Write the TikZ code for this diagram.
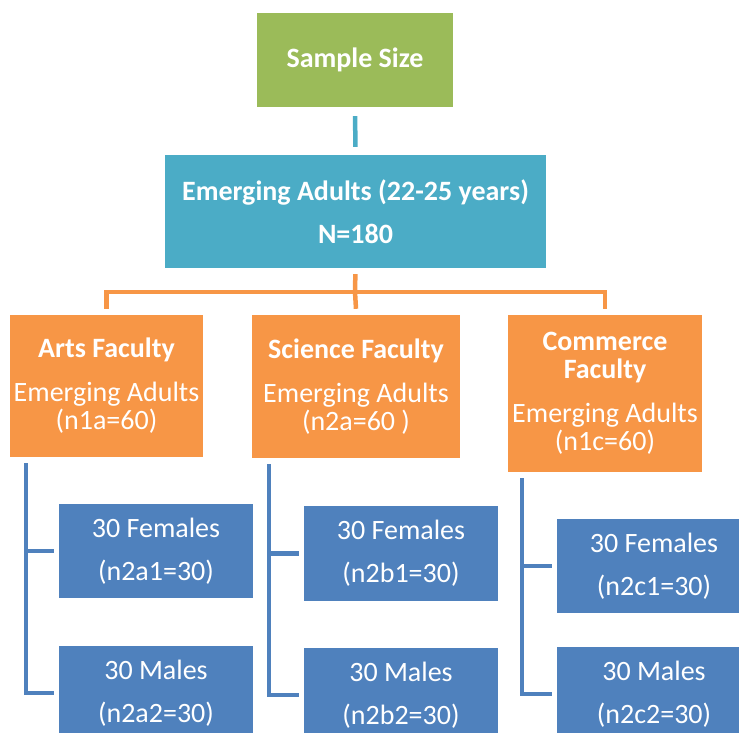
\documentclass[tikz,border=0pt]{standalone}
\usepackage{fontspec}
\setmainfont{Carlito}
\usetikzlibrary{positioning,calc}
\definecolor{sizegreen}{HTML}{9BBB59}
\definecolor{adultteal}{HTML}{4BACC6}
\definecolor{facultyorange}{HTML}{F79646}
\definecolor{groupblue}{HTML}{4F81BD}

\begin{document}
\begin{tikzpicture}[x=1pt,y=-1pt]
\tikzset{box/.style={rectangle, text=white, align=center, inner sep=0pt,
  font=\fontsize{28}{28}\selectfont}}
\tikzset{title/.style={box, font=\fontsize{28}{28}\selectfont\bfseries}}
\tikzset{link/.style={line width=4.5pt}}
\tikzset{faculty/.style={box, fill=facultyorange, minimum height=142pt}}
\tikzset{group/.style={box, fill=groupblue, minimum width=194pt, minimum height=94pt}}
\clip (0,0) rectangle (739,733);

\node[title, fill=sizegreen, minimum width=196pt, minimum height=94pt] (size) at (355,60) {Sample Size};
\node[title, fill=adultteal, minimum width=381pt, minimum height=113pt] (adults) at (355.5,211.5)
  {Emerging Adults (22-25 years)\\[15pt]N=180};

\node[faculty, minimum width=193pt] (arts) at (106.5,386)
  {{\bfseries Arts Faculty}\\[16pt]Emerging Adults\\(n1a=60)};
\node[faculty, minimum width=208pt, minimum height=143pt] (sci) at (356,386.5)
  {{\bfseries Science Faculty}\\[16pt]Emerging Adults\\(n2a=60 )};
\node[faculty, minimum width=194pt, minimum height=157pt] (com) at (605,393.5)
  {{\bfseries Commerce}\\{\bfseries Faculty}\\[16pt]Emerging Adults\\(n1c=60)};

\node[group] (f1) at (156,551) {30 Females\\[15pt](n2a1=30)};
\node[group] (m1) at (156,693) {30 Males\\[15pt](n2a2=30)};
\node[group, minimum height=95pt] (f2) at (401,553.5) {30 Females\\[15pt](n2b1=30)};
\node[group] (m2) at (401,695) {30 Males\\[15pt](n2b2=30)};
\node[group] (f3) at (654,566) {30 Females\\[15pt](n2c1=30)};
\node[group] (m3) at (654,694) {30 Males\\[15pt](n2c2=30)};

\draw[link, adultteal, shorten <=9pt, shorten >=8pt] (size.south) -- (adults.north);

\coordinate (fork) at (355,292);
\draw[link, facultyorange, shorten <=6pt] (adults.south) -- (fork);
\draw[link, facultyorange] ([yshift=6pt]arts.north) |- (fork) -| ([yshift=6pt]com.north);
\draw[link, facultyorange] (fork) -- ([yshift=6pt]sci.north);

\coordinate (artsline) at ([xshift=16pt,yshift=-6pt]arts.south west);
\coordinate (sciline) at ([xshift=17pt,yshift=-6pt]sci.south west);
\coordinate (comline) at ([xshift=14pt,yshift=-6pt]com.south west);
\draw[link, groupblue] (artsline) |- ([xshift=-5pt]m1.west);
\draw[link, groupblue] (f1.west -| artsline) -- ([xshift=-5pt]f1.west);
\draw[link, groupblue] (sciline) |- ([xshift=-5pt]m2.west);
\draw[link, groupblue] (f2.west -| sciline) -- ([xshift=-5pt]f2.west);
\draw[link, groupblue] (comline) |- ([xshift=-5pt]m3.west);
\draw[link, groupblue] (f3.west -| comline) -- ([xshift=-5pt]f3.west);
\end{tikzpicture}
\end{document}
